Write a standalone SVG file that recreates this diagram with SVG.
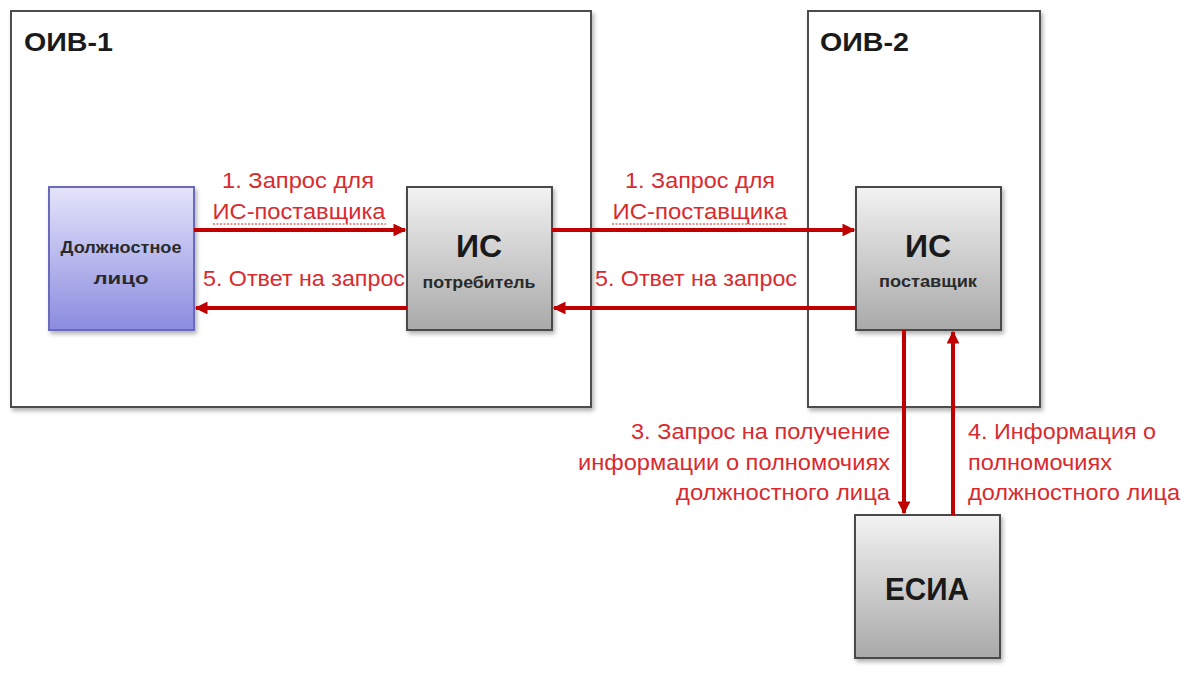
<svg xmlns="http://www.w3.org/2000/svg" width="1188" height="684" viewBox="0 0 1188 684">
<defs>
<linearGradient id="gGray" x1="0" y1="0" x2="0" y2="1">
<stop offset="0" stop-color="#f2f2f2"/>
<stop offset="1" stop-color="#a9a9a9"/>
</linearGradient>
<linearGradient id="gBlue" x1="0" y1="0" x2="0" y2="1">
<stop offset="0" stop-color="#e4e4fb"/>
<stop offset="1" stop-color="#8b8be0"/>
</linearGradient>
<filter id="sh" x="-10%" y="-10%" width="130%" height="130%">
<feDropShadow dx="2" dy="3" stdDeviation="2" flood-color="#000" flood-opacity="0.3"/>
</filter>
<marker id="ah" viewBox="0 0 10 10" refX="9" refY="5" markerWidth="3.2" markerHeight="3.2" orient="auto" markerUnits="strokeWidth">
<path d="M0,0 L10,5 L0,10 z" fill="#c00000"/>
</marker>
</defs>
<style>
.frame{fill:#fff;stroke:#4d4d4d;stroke-width:2}
.box{fill:url(#gGray);stroke:#4a4a4a;stroke-width:2}
.boxb{fill:url(#gBlue);stroke:#6a6ab8;stroke-width:2}
.title{font-family:"Liberation Sans",Arial,sans-serif;font-weight:bold;font-size:26px;fill:#1a1a1a}
.big{font-family:"Liberation Sans",Arial,sans-serif;font-weight:bold;font-size:32px;fill:#1a1a1a;text-anchor:middle}
.small{font-family:"Liberation Sans",Arial,sans-serif;font-weight:bold;font-size:17px;fill:#2a2a2a;text-anchor:middle}
.lbl{font-family:"Liberation Sans",Arial,sans-serif;font-size:22px;fill:#d92a2f}
.conn{stroke:#c00000;stroke-width:4;fill:none;marker-end:url(#ah)}
</style>
<rect width="1188" height="684" fill="#fff"/>
<g id="oiv1">
<rect class="frame" x="11" y="11" width="580" height="396" filter="url(#sh)"/>
<text class="title" x="24" y="51" textLength="89" lengthAdjust="spacingAndGlyphs">ОИВ-1</text>
</g>
<g id="oiv2">
<rect class="frame" x="808" y="11" width="232" height="396" filter="url(#sh)"/>
<text class="title" x="820" y="51" textLength="89" lengthAdjust="spacingAndGlyphs">ОИВ-2</text>
</g>
<g id="official">
<rect class="boxb" x="49" y="187" width="145" height="143" filter="url(#sh)"/>
<text class="small" x="121" y="253" textLength="121" lengthAdjust="spacingAndGlyphs">Должностное</text>
<text class="small" x="121" y="284" textLength="55" lengthAdjust="spacingAndGlyphs">лицо</text>
</g>
<g id="is-consumer">
<rect class="box" x="407" y="187" width="145" height="143" filter="url(#sh)"/>
<text class="big" x="479" y="257">ИС</text>
<text class="small" x="479" y="288" textLength="113" lengthAdjust="spacingAndGlyphs">потребитель</text>
</g>
<g id="is-supplier">
<rect class="box" x="856" y="187" width="145" height="143" filter="url(#sh)"/>
<text class="big" x="928" y="257">ИС</text>
<text class="small" x="928" y="287" textLength="98" lengthAdjust="spacingAndGlyphs">поставщик</text>
</g>
<g id="esia">
<rect class="box" x="855" y="515" width="145" height="143" filter="url(#sh)"/>
<text class="big" x="927" y="600" textLength="84" lengthAdjust="spacingAndGlyphs">ЕСИА</text>
</g>
<g id="connectors">
<line class="conn" x1="194" y1="230" x2="405" y2="230"/>
<line class="conn" x1="407" y1="308" x2="196" y2="308"/>
<line class="conn" x1="552" y1="230" x2="854" y2="230"/>
<line class="conn" x1="856" y1="308" x2="554" y2="308"/>
<line class="conn" x1="904" y1="330" x2="904" y2="513"/>
<line class="conn" x1="953" y1="515" x2="953" y2="332"/>
</g>
<g id="labels">
<text class="lbl" x="298" y="188" text-anchor="middle" textLength="152" lengthAdjust="spacingAndGlyphs">1. Запрос для</text>
<text class="lbl" x="299" y="219" text-anchor="middle" textLength="173" lengthAdjust="spacingAndGlyphs">ИС-поставщика</text>
<line x1="213" y1="224" x2="386" y2="224" stroke="#e06060" stroke-width="2" stroke-dasharray="2,1.5" opacity="0.7"/>
<text class="lbl" x="304" y="286" text-anchor="middle" textLength="202" lengthAdjust="spacingAndGlyphs">5. Ответ на запрос</text>
<text class="lbl" x="700" y="188" text-anchor="middle" textLength="150" lengthAdjust="spacingAndGlyphs">1. Запрос для</text>
<text class="lbl" x="700" y="219" text-anchor="middle" textLength="175" lengthAdjust="spacingAndGlyphs">ИС-поставщика</text>
<line x1="612" y1="224" x2="787" y2="224" stroke="#e06060" stroke-width="2" stroke-dasharray="2,1.5" opacity="0.7"/>
<text class="lbl" x="696" y="286" text-anchor="middle" textLength="202" lengthAdjust="spacingAndGlyphs">5. Ответ на запрос</text>
<text class="lbl" x="890" y="439" text-anchor="end" textLength="259" lengthAdjust="spacingAndGlyphs">3. Запрос на получение</text>
<text class="lbl" x="890" y="470" text-anchor="end" textLength="312" lengthAdjust="spacingAndGlyphs">информации о полномочиях</text>
<text class="lbl" x="890" y="500" text-anchor="end" textLength="214" lengthAdjust="spacingAndGlyphs">должностного лица</text>
<text class="lbl" x="968" y="439" textLength="188" lengthAdjust="spacingAndGlyphs">4. Информация о</text>
<text class="lbl" x="968" y="470" textLength="144" lengthAdjust="spacingAndGlyphs">полномочиях</text>
<text class="lbl" x="968" y="500" textLength="212" lengthAdjust="spacingAndGlyphs">должностного лица</text>
</g>
</svg>
